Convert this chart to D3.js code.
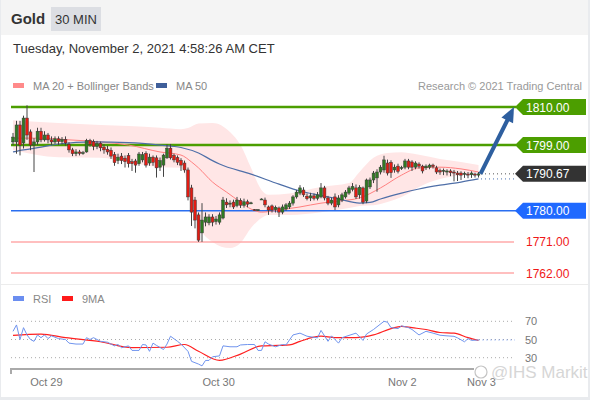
<!DOCTYPE html>
<html><head><meta charset="utf-8">
<script src="https://cdn.jsdelivr.net/npm/d3@7"></script>
<style>
html,body{margin:0;padding:0;background:#e9ebee;}
svg{display:block;font-family:"Liberation Sans",Arial,sans-serif;}
</style></head>
<body>
<svg id="c" width="590" height="400"></svg>
<script>
// ---------- DATA ----------
const title = "Gold";
const period = "30 MIN";
const stamp = "Tuesday, November 2, 2021 4:58:26 AM CET";
const open  = [1799.9,1799.9,1804.8,1799.6,1806.8,1802.8,1799.0,1799.9,1803.0,1800.5,1801.9,1800.5,1799.9,1800.8,1800.0,1800.6,1799.2,1797.6,1796.5,1797.0,1796.6,1797.0,1800.3,1800.0,1798.6,1799.5,1798.4,1797.8,1797.5,1796.2,1794.5,1795.8,1795.2,1796.0,1794.2,1794.4,1793.6,1794.7,1796.6,1793.8,1795.5,1795.3,1792.6,1793.2,1795.3,1798.1,1796.0,1795.4,1794.6,1793.8,1791.8,1786.6,1783.1,1778.8,1773.6,1776.7,1776.5,1778.2,1776.9,1776.7,1777.9,1782.5,1781.9,1782.5,1781.5,1783.0,1781.6,1782.6,1782.2,1780.3,1780.3,1783.4,1783.1,1781.1,1781.4,1780.3,1780.8,1779.6,1780.5,1781.1,1782.2,1784.0,1785.1,1786.0,1784.2,1783.7,1784.3,1783.6,1784.0,1786.6,1783.7,1782.2,1784.0,1781.7,1783.1,1784.0,1785.1,1786.2,1786.6,1784.6,1786.6,1782.8,1786.9,1788.9,1789.5,1791.2,1791.8,1793.8,1794.0,1791.8,1792.9,1792.3,1792.6,1794.4,1794.1,1792.6,1793.5,1792.9,1792.4,1792.6,1793.2,1792.4,1791.6,1791.4,1791.2,1791.5,1791.2,1790.9,1790.9,1790.5,1790.6,1790.4,1790.6,1790.3];
const high  = [1802.5,1806.0,1806.0,1807.5,1810.5,1803.5,1801.0,1804.0,1804.0,1803.0,1802.5,1801.5,1801.5,1801.5,1801.3,1801.5,1799.8,1798.2,1797.8,1797.6,1797.3,1800.8,1800.8,1800.6,1800.2,1800.0,1799.3,1798.8,1798.3,1797.0,1796.5,1796.7,1796.0,1796.7,1795.0,1795.0,1797.0,1797.0,1797.2,1796.5,1796.0,1796.0,1795.4,1796.5,1799.2,1799.3,1796.5,1796.0,1795.2,1794.5,1792.5,1787.5,1784.0,1779.5,1782.2,1779.5,1779.0,1779.0,1778.5,1779.5,1784.0,1783.6,1783.0,1783.2,1784.0,1783.6,1783.5,1783.2,1782.6,1780.5,1780.5,1783.6,1783.8,1781.5,1781.8,1781.5,1781.2,1781.8,1782.2,1782.8,1784.5,1786.0,1787.4,1786.8,1785.0,1785.2,1785.0,1785.4,1788.0,1787.2,1784.3,1783.8,1785.0,1784.5,1785.2,1786.0,1787.2,1788.0,1787.6,1787.4,1787.0,1789.3,1789.6,1791.5,1792.0,1793.2,1795.9,1794.8,1794.6,1793.4,1793.6,1793.0,1795.0,1795.0,1794.6,1794.3,1794.0,1793.3,1793.4,1793.6,1793.6,1793.0,1792.2,1792.2,1792.0,1792.0,1791.8,1791.5,1791.4,1791.3,1791.2,1791.4,1791.0,1791.2];
const low   = [1799.0,1796.5,1796.0,1798.0,1800.5,1797.5,1791.2,1799.0,1799.8,1800.0,1799.5,1799.0,1799.3,1799.0,1799.2,1798.8,1796.8,1795.8,1795.8,1796.0,1796.2,1796.8,1798.5,1797.5,1797.8,1797.2,1796.5,1796.2,1795.0,1793.0,1793.5,1793.5,1792.5,1792.5,1791.5,1791.0,1793.0,1794.0,1792.5,1793.0,1793.0,1789.6,1791.5,1789.8,1795.0,1794.8,1794.0,1793.2,1791.5,1791.0,1783.0,1775.6,1774.9,1771.0,1771.0,1775.5,1775.8,1775.5,1776.0,1776.0,1777.5,1780.8,1781.0,1780.5,1781.0,1780.8,1780.9,1781.0,1781.9,1780.0,1780.1,1783.2,1781.0,1778.8,1779.5,1779.5,1778.2,1779.0,1780.0,1780.5,1781.5,1783.5,1784.5,1784.0,1783.0,1782.8,1783.0,1783.0,1783.6,1783.0,1781.6,1781.6,1780.2,1781.0,1782.5,1783.5,1784.6,1785.6,1783.4,1783.5,1781.9,1782.2,1786.3,1788.0,1785.5,1790.5,1791.0,1790.2,1789.5,1791.0,1790.8,1791.8,1792.0,1792.0,1791.5,1792.0,1792.2,1790.8,1791.8,1792.0,1792.2,1790.6,1790.4,1790.3,1790.2,1790.0,1788.5,1788.6,1788.9,1789.5,1789.4,1789.5,1789.6,1789.6];
const close = [1801.3,1804.8,1799.0,1806.8,1801.9,1799.0,1799.9,1803.0,1800.5,1801.9,1800.5,1799.9,1800.8,1800.0,1800.6,1799.6,1797.6,1796.5,1797.0,1796.6,1796.8,1800.3,1799.2,1798.6,1799.5,1798.2,1797.6,1797.0,1795.8,1793.9,1795.5,1794.5,1794.2,1793.6,1793.6,1793.2,1796.4,1796.2,1793.2,1795.5,1794.0,1792.4,1794.5,1796.1,1798.1,1795.3,1794.7,1794.0,1793.2,1791.8,1784.0,1779.6,1777.3,1771.5,1777.3,1778.2,1778.2,1776.7,1777.6,1778.8,1783.1,1781.7,1782.2,1781.1,1783.1,1781.6,1782.6,1781.9,1782.3,1780.2,1780.3,1783.4,1781.7,1780.2,1780.2,1781.0,1779.6,1781.1,1781.7,1782.2,1784.0,1785.4,1786.6,1784.6,1783.5,1784.3,1783.6,1784.6,1786.6,1783.7,1782.2,1783.1,1781.1,1783.7,1784.6,1785.4,1786.6,1787.0,1784.0,1786.8,1782.5,1788.9,1788.9,1790.9,1791.2,1792.6,1794.7,1790.9,1791.0,1792.6,1791.4,1792.5,1794.4,1792.6,1792.6,1793.8,1792.9,1791.5,1792.9,1793.2,1792.8,1791.2,1791.2,1791.7,1791.5,1791.0,1790.9,1790.4,1790.3,1790.8,1790.4,1790.9,1790.3,1790.67];

const ma20Idx = [0,8,16,25,33,42,48,51,53,57,61,65,68,71,76,82,88,93,99,105,111,116,122,128,133];
const ma20Val = [1801.0,1801.0,1800.5,1799.9,1799.0,1797.0,1796.1,1794.1,1792.4,1788.3,1785.4,1782.5,1780.5,1779.6,1780.2,1781.1,1782.2,1782.8,1783.7,1786.6,1790.3,1792.4,1792.6,1792.1,1791.2];
const ma50Idx = [0,3,8,13,23,33,42,48,53,57,59,68,76,82,88,93,99,102,105,111,116,122,128,133];
const ma50Val = [1797.0,1797.6,1798.4,1799.3,1799.9,1799.7,1799.0,1798.3,1796.7,1794.5,1793.5,1790.6,1787.7,1785.7,1784.4,1783.4,1782.2,1782.4,1783.4,1785.1,1786.3,1787.4,1788.3,1789.2];
const bbIdx   = [0,13,25,33,42,48,50,53,57,62,65,68,71,73,79,88,96,99,103,107,111,113,116,122,128,133];
const bbUpper = [1806.2,1805.4,1804.8,1804.5,1804.0,1803.6,1803.9,1805.2,1805.4,1802.8,1799.0,1792.4,1786.0,1784.6,1785.0,1786.9,1788.0,1791.2,1795.3,1796.7,1796.9,1796.7,1796.2,1795.0,1794.1,1793.2];
const bbLower = [1797.6,1795.5,1795.3,1794.1,1792.6,1792.4,1787.4,1775.9,1771.0,1769.2,1770.7,1775.0,1777.9,1778.8,1778.8,1779.6,1780.8,1781.4,1781.6,1782.5,1784.0,1785.0,1786.9,1789.2,1790.3,1790.9];

const rsiIdx = [0,1,2,3,4,5,6,7,8,9,10,11,13,15,16,18,20,21,22,23,25,27,29,30,31,33,34,36,37,38,39,40,41,43,44,45,47,48,50,51,53,54,55,56,57,59,60,62,64,65,67,69,70,71,72,73,75,77,78,80,82,84,87,88,90,91,93,94,98,100,101,103,106,107,108,110,111,113,114,116,118,120,122,124,126,127,129,130,131,133];
const rsiVal = [59,66,50,63,55,50,48,55,52,55,51,54,51,50,46,45,45,52,50,52,48,47,43,44.5,41,43,38,38,44.5,44,37,46,43.5,39,45,53.6,48,45,37,26,23,21,27,27,31,32,43,42,42,44,44.5,44.5,38,38,47.5,45,42,44.5,44,55,57,53.6,51.8,60,48,54,46,52,57,49,56,61,70,69,63,62,65,63,61,55,59,57,54.7,54,53.5,51.8,47.5,51,49,49.5];
const maRsiIdx = [0,8,15,25,34,44,49,53,59,65,71,76,79,82,88,92,98,103,108,111,114,118,122,126,130,133];
const maRsiVal = [54.5,56,52,47.5,41,41.5,44.5,37,27,34,43,43.5,44,48,53.6,52,52,55,62,64.5,63,61,57.7,57,52,49];

const levels      = [1810, 1799, 1790.67, 1780, 1771, 1762];
const levelKind   = ["res", "res", "last", "sup", "tgt", "tgt"];
const rsiTicks    = [70, 50, 30];
const dateLabels  = ["Oct 29", "Oct 30", "Nov 2", "Nov 3"];
const dateIdx     = [9.4, 58.6, 111.1, 133.7];
const legendMain  = ["MA 20 + Bollinger Bands", "MA 50"];
const legendRsi   = ["RSI", "9MA"];
const credit      = "Research \u00a9 2021 Trading Central";

// ---------- DRAW ----------
const svg = d3.select("#c");
const W = 590, H = 400;
const font = '"Liberation Sans",Arial,sans-serif';

svg.append("rect").attr("x",1).attr("y",0).attr("width",W-3).attr("height",H-3).attr("fill","#fff");
svg.append("rect").attr("x",1).attr("y",0).attr("width",W-3).attr("height",35).attr("fill","#f4f4f4");
svg.append("text").attr("x",11).attr("y",24).attr("font-size",15).attr("font-weight","bold").attr("fill","#333").text(title);
svg.append("rect").attr("x",51).attr("y",7).attr("width",50).attr("height",24).attr("fill","#dcdee3");
svg.append("text").attr("x",76).attr("y",24).attr("text-anchor","middle").attr("font-size",13).attr("fill","#333").text(period);
svg.append("text").attr("x",13).attr("y",53).attr("font-size",13).attr("fill","#333").text(stamp);

// legends
const mainLegColors = ["#ff8a8a", "#3f5f9a"];
const mainLegX = [13, 156];
legendMain.forEach((t,i)=>{
  svg.append("rect").attr("x",mainLegX[i]).attr("y",83).attr("width",11).attr("height",5).attr("fill",mainLegColors[i]);
  svg.append("text").attr("x",mainLegX[i]+20).attr("y",90).attr("font-size",11).attr("fill","#888").text(t);
});
svg.append("text").attr("x",582).attr("y",90).attr("text-anchor","end").attr("font-size",11).attr("fill","#999").text(credit);

const x = d3.scaleLinear().domain([0, close.length-1]).range([13, 478.5]);
const y = d3.scaleLinear().domain([1762, 1810]).range([273, 107]);

// Bollinger band fill
const bb = bbIdx.map((d,i)=>({i:d, u:bbUpper[i], l:bbLower[i]}));
svg.append("path").datum(bb)
  .attr("d", d3.area().curve(d3.curveMonotoneX).x(d=>x(d.i)).y0(d=>y(d.l)).y1(d=>y(d.u)))
  .attr("fill","#ffe6e6");

// horizontal levels
const lvlColor = {res:"#4c9e00", last:"#333", sup:"#2a6ef0", tgt:"#ffaaaa"};
levels.forEach((v,i)=>{
  const k = levelKind[i], yy = y(v);
  if (k === "last") {
    svg.append("line").attr("x1",481).attr("x2",514).attr("y1",yy).attr("y2",yy)
      .attr("stroke","#555").attr("stroke-dasharray","1,3").attr("stroke-width",1);
  } else {
    svg.append("line").attr("x1",11).attr("x2", k==="tgt"?514:516).attr("y1",yy).attr("y2",yy)
      .attr("stroke",lvlColor[k]).attr("stroke-width", k==="res"?2.5:1.5);
  }
  if (k === "tgt") {
    svg.append("text").attr("x",526).attr("y",yy+4.5).attr("font-size",12).attr("fill","#f01818").text(v.toFixed(2));
  } else {
    const h = 8;
    svg.append("path").attr("d",`M515,${yy} L523,${yy-h} L586,${yy-h} L586,${yy+h} L523,${yy+h} Z`)
      .attr("fill", k==="res"?"#4c9e00":(k==="sup"?"#1f69ff":"#333"));
    svg.append("text").attr("x",526).attr("y",yy+4.5).attr("font-size",12).attr("fill","#fff").text(v.toFixed(2));
  }
});
// MA50 extension (dotted)
svg.append("line").attr("x1",481).attr("x2",514).attr("y1",y(ma50Val[ma50Val.length-1])).attr("y2",y(ma50Val[ma50Val.length-1]))
  .attr("stroke","#4a6fb0").attr("stroke-dasharray","1,3");

// MA lines
svg.append("path").datum(ma20Idx.map((d,i)=>[d,ma20Val[i]]))
  .attr("d", d3.line().curve(d3.curveMonotoneX).x(d=>x(d[0])).y(d=>y(d[1])))
  .attr("fill","none").attr("stroke","#ff8080").attr("stroke-width",1);
svg.append("path").datum(ma50Idx.map((d,i)=>[d,ma50Val[i]]))
  .attr("d", d3.line().curve(d3.curveMonotoneX).x(d=>x(d[0])).y(d=>y(d[1])))
  .attr("fill","none").attr("stroke","#4f6fa8").attr("stroke-width",1.2);

// candles
const candles = close.map((c,i)=>({i, o:open[i], h:high[i], l:low[i], c}));
const g = svg.append("g");
g.selectAll("line.w").data(candles).join("line")
  .attr("x1",d=>x(d.i)).attr("x2",d=>x(d.i)).attr("y1",d=>y(d.h)).attr("y2",d=>y(d.l))
  .attr("stroke","#444").attr("stroke-width",1);
g.selectAll("rect.b").data(candles).join("rect")
  .attr("x",d=>x(d.i)-1.4).attr("width",2.8)
  .attr("y",d=>y(Math.max(d.o,d.c))).attr("height",d=>Math.max(1,Math.abs(y(d.o)-y(d.c))))
  .attr("fill",d=>d.c>=d.o?"#2f7a22":"#e31b12").attr("stroke","#3a3a3a").attr("stroke-width",0.5);

// forecast arrow
const lastX = x(close.length-1), lastY = y(close[close.length-1]);
const tipX = 514, tipY = y(levels[0]);
svg.append("line").attr("x1",lastX+2).attr("y1",lastY).attr("x2",tipX-5).attr("y2",tipY+10)
  .attr("stroke","#2e5f9f").attr("stroke-width",4);
{
  const ang = Math.atan2(tipY-lastY, tipX-lastX-2);
  const L = 15, Wd = 6.5;
  const bx = tipX - L*Math.cos(ang), by = tipY - L*Math.sin(ang);
  const px = -Math.sin(ang), py = Math.cos(ang);
  svg.append("path").attr("d",`M${tipX},${tipY} L${bx+px*Wd},${by+py*Wd} L${bx-px*Wd},${by-py*Wd} Z`).attr("fill","#2e5f9f");
}

// separator
svg.append("line").attr("x1",1).attr("x2",588).attr("y1",284.5).attr("y2",284.5).attr("stroke","#ececec");

// ---------- RSI ----------
const rsiLegColors = ["#6b8ef0", "#ff1a1a"];
const rsiLegX = [13, 62];
legendRsi.forEach((t,i)=>{
  svg.append("rect").attr("x",rsiLegX[i]).attr("y",296).attr("width",11).attr("height",5).attr("fill",rsiLegColors[i]);
  svg.append("text").attr("x",rsiLegX[i]+20).attr("y",303).attr("font-size",11).attr("fill","#888").text(t);
});
const yr = d3.scaleLinear().domain([30,70]).range([357.7, 321.3]);
rsiTicks.forEach(t=>{
  svg.append("line").attr("x1",11).attr("x2",515).attr("y1",yr(t)).attr("y2",yr(t))
    .attr("stroke","#aaa").attr("stroke-dasharray","1,3");
  svg.append("text").attr("x",525).attr("y",yr(t)+4).attr("font-size",11).attr("fill","#777").text(t);
});
svg.append("path").datum(maRsiIdx.map((d,i)=>[d,maRsiVal[i]]))
  .attr("d", d3.line().curve(d3.curveMonotoneX).x(d=>x(d[0])).y(d=>yr(d[1])))
  .attr("fill","none").attr("stroke","#ff2020").attr("stroke-width",1.2);
svg.append("path").datum(rsiIdx.map((d,i)=>[d,rsiVal[i]]))
  .attr("d", d3.line().x(d=>x(d[0])).y(d=>yr(d[1])))
  .attr("fill","none").attr("stroke","#7094ee").attr("stroke-width",1);
svg.append("line").attr("x1",lastX).attr("x2",515).attr("y1",yr(rsiVal[rsiVal.length-1])).attr("y2",yr(rsiVal[rsiVal.length-1]))
  .attr("stroke","#7094ee").attr("stroke-dasharray","1,3");

// x axis
const xa = d3.axisBottom(x).tickValues(dateIdx).tickFormat((d,i)=>dateLabels[i]).tickSize(0).tickPadding(9);
const ag = svg.append("g").attr("transform","translate(0,369)").call(xa);
ag.select(".domain").attr("d","M11,5V0H474").attr("stroke","#aaa").attr("stroke-width",2).attr("fill","none");
ag.selectAll("text").attr("font-family",font).attr("font-size",11).attr("fill","#777");

// watermark
svg.append("circle").attr("cx",481).attr("cy",372).attr("r",6).attr("fill","none").attr("stroke","#c4c4c4").attr("stroke-width",1.2);
svg.append("text").attr("x",491).attr("y",378).attr("font-size",17).attr("fill","#d6d6d6").text("@IHS Markit");
</script>
</body></html>
